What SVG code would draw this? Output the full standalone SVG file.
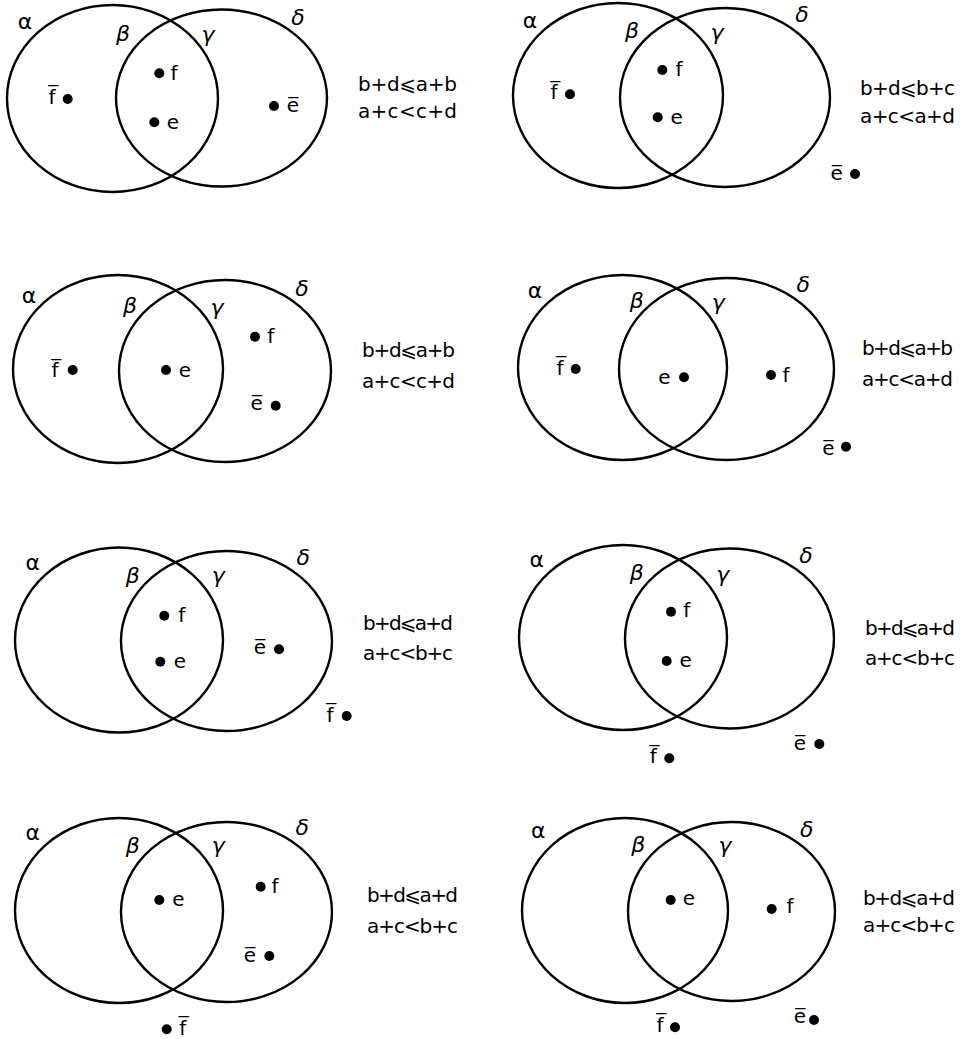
<svg xmlns="http://www.w3.org/2000/svg" width="961" height="1039" viewBox="0 0 961 1039">
<style>
.c{fill:none;stroke:#000;stroke-width:2.4}
.g{font-family:"DejaVu Sans",sans-serif;font-size:22px;fill:#000;text-anchor:middle}
.i{font-style:italic}
.l{font-family:"DejaVu Sans",sans-serif;font-size:20px;fill:#000;text-anchor:middle}
.q{font-family:"DejaVu Sans",sans-serif;font-size:20px;fill:#000}
.d{fill:#000}
</style>
<rect width="961" height="1039" fill="#fff"/>
<g id="panel1">
<ellipse class="c" cx="112.5" cy="98.5" rx="105.5" ry="93.5"/>
<ellipse class="c" cx="221.5" cy="98" rx="105.5" ry="88.5"/>
<text class="g" x="25" y="29">α</text>
<text class="g i" x="123" y="41">β</text>
<text class="g i" x="208" y="42">γ</text>
<text class="g i" x="298" y="25">δ</text>
<text class="l" x="52" y="104">f&#x305;</text><circle class="d" cx="67.7" cy="99" r="5"/>
<circle class="d" cx="159.3" cy="73.3" r="5"/><text class="l" x="174" y="79.5">f</text>
<circle class="d" cx="154.3" cy="122.3" r="5"/><text class="l" x="173" y="129">e</text>
<circle class="d" cx="274" cy="106" r="5"/><text class="l" x="293" y="112">e&#x305;</text>
<text class="q" x="358" y="90.7" textLength="99" lengthAdjust="spacing">b+d⩽a+b</text>
<text class="q" x="358" y="118" textLength="99" lengthAdjust="spacing">a+c&lt;c+d</text>
</g>
<g id="panel2">
<ellipse class="c" cx="618" cy="95.5" rx="105" ry="92.5"/>
<ellipse class="c" cx="725" cy="97.5" rx="105" ry="89.5"/>
<text class="g" x="530" y="28">α</text>
<text class="g i" x="632" y="38">β</text>
<text class="g i" x="717" y="40">γ</text>
<text class="g i" x="802" y="22">δ</text>
<text class="l" x="554" y="99.3">f&#x305;</text><circle class="d" cx="570" cy="94.3" r="5"/>
<circle class="d" cx="662.3" cy="70" r="5"/><text class="l" x="679" y="76">f</text>
<circle class="d" cx="657.7" cy="117.3" r="5"/><text class="l" x="676.7" y="124">e</text>
<text class="l" x="836.7" y="180">e&#x305;</text><circle class="d" cx="855" cy="174" r="5"/>
<text class="q" x="860" y="95" textLength="95" lengthAdjust="spacing">b+d⩽b+c</text>
<text class="q" x="860" y="123" textLength="95" lengthAdjust="spacing">a+c&lt;a+d</text>
</g>
<g id="panel3">
<ellipse class="c" cx="118" cy="369" rx="105" ry="94"/>
<ellipse class="c" cx="225" cy="371" rx="106" ry="91"/>
<text class="g" x="29" y="303.3">α</text>
<text class="g i" x="130" y="313">β</text>
<text class="g i" x="217" y="315">γ</text>
<text class="g i" x="302" y="296">δ</text>
<text class="l" x="55" y="377.3">f&#x305;</text><circle class="d" cx="72.7" cy="370" r="5"/>
<circle class="d" cx="166" cy="370" r="5"/><text class="l" x="185" y="377.3">e</text>
<circle class="d" cx="255" cy="336.7" r="5"/><text class="l" x="270.7" y="343.3">f</text>
<text class="l" x="256.7" y="410">e&#x305;</text><circle class="d" cx="275.7" cy="405.7" r="5"/>
<text class="q" x="362" y="356.7" textLength="93" lengthAdjust="spacing">b+d⩽a+b</text>
<text class="q" x="362" y="388" textLength="93" lengthAdjust="spacing">a+c&lt;c+d</text>
</g>
<g id="panel4">
<ellipse class="c" cx="622.5" cy="367.5" rx="104.5" ry="92.5"/>
<ellipse class="c" cx="726.5" cy="369" rx="107.5" ry="91"/>
<text class="g" x="535" y="298.3">α</text>
<text class="g i" x="636.7" y="308.3">β</text>
<text class="g i" x="718.3" y="310">γ</text>
<text class="g i" x="803.3" y="291.7">δ</text>
<text class="l" x="560" y="375">f&#x305;</text><circle class="d" cx="575.7" cy="369" r="5"/>
<text class="l" x="664.3" y="384">e</text><circle class="d" cx="684" cy="377.3" r="5"/>
<circle class="d" cx="771" cy="375" r="5"/><text class="l" x="786" y="381.7">f</text>
<text class="l" x="828.3" y="455">e&#x305;</text><circle class="d" cx="846" cy="446.7" r="5"/>
<text class="q" x="862" y="355" textLength="91" lengthAdjust="spacing">b+d⩽a+b</text>
<text class="q" x="862" y="386" textLength="91" lengthAdjust="spacing">a+c&lt;a+d</text>
</g>
<g id="panel5">
<ellipse class="c" cx="119" cy="640" rx="104" ry="92.5"/>
<ellipse class="c" cx="226.5" cy="641" rx="105.5" ry="90"/>
<text class="g" x="32.7" y="570">α</text>
<text class="g i" x="132.7" y="583.3">β</text>
<text class="g i" x="218.3" y="583.3">γ</text>
<text class="g i" x="303.3" y="565">δ</text>
<circle class="d" cx="164.3" cy="615.7" r="5"/><text class="l" x="181.7" y="621.7">f</text>
<circle class="d" cx="160.3" cy="661.7" r="5"/><text class="l" x="180" y="668.3">e</text>
<text class="l" x="260" y="654.3">e&#x305;</text><circle class="d" cx="279" cy="649.3" r="5"/>
<text class="l" x="330" y="721.7">f&#x305;</text><circle class="d" cx="346.7" cy="716" r="5"/>
<text class="q" x="363" y="630" textLength="90" lengthAdjust="spacing">b+d⩽a+d</text>
<text class="q" x="363" y="660" textLength="90" lengthAdjust="spacing">a+c&lt;b+c</text>
</g>
<g id="panel6">
<ellipse class="c" cx="623" cy="637.5" rx="104" ry="92.5"/>
<ellipse class="c" cx="729.5" cy="638.5" rx="104.5" ry="90"/>
<text class="g" x="536.7" y="566.7">α</text>
<text class="g i" x="636.7" y="580">β</text>
<text class="g i" x="722.7" y="581.7">γ</text>
<text class="g i" x="806" y="563.3">δ</text>
<circle class="d" cx="671" cy="611.7" r="5"/><text class="l" x="686.7" y="616.7">f</text>
<circle class="d" cx="666.7" cy="661" r="5"/><text class="l" x="685.7" y="666.7">e</text>
<text class="l" x="653.3" y="763.3">f&#x305;</text><circle class="d" cx="669.3" cy="758.3" r="5"/>
<text class="l" x="800" y="750">e&#x305;</text><circle class="d" cx="819.3" cy="744" r="5"/>
<text class="q" x="865" y="635" textLength="90" lengthAdjust="spacing">b+d⩽a+d</text>
<text class="q" x="865" y="665" textLength="90" lengthAdjust="spacing">a+c&lt;b+c</text>
</g>
<g id="panel7">
<ellipse class="c" cx="119" cy="910.5" rx="104" ry="92.5"/>
<ellipse class="c" cx="226.5" cy="912" rx="105.5" ry="90"/>
<text class="g" x="32.7" y="840">α</text>
<text class="g i" x="132.7" y="853.3">β</text>
<text class="g i" x="218.3" y="853.3">γ</text>
<text class="g i" x="302.3" y="835">δ</text>
<circle class="d" cx="159.3" cy="900" r="5"/><text class="l" x="178.3" y="906">e</text>
<circle class="d" cx="260.7" cy="886.7" r="5"/><text class="l" x="275" y="892.7">f</text>
<text class="l" x="250" y="962.3">e&#x305;</text><circle class="d" cx="269.3" cy="956" r="5"/>
<circle class="d" cx="166.7" cy="1029.3" r="5"/><text class="l" x="182.7" y="1035">f&#x305;</text>
<text class="q" x="367" y="902" textLength="91" lengthAdjust="spacing">b+d⩽a+d</text>
<text class="q" x="367" y="933" textLength="91" lengthAdjust="spacing">a+c&lt;b+c</text>
</g>
<g id="panel8">
<ellipse class="c" cx="625" cy="910.5" rx="103" ry="92.5"/>
<ellipse class="c" cx="731.5" cy="911.5" rx="103.5" ry="89.5"/>
<text class="g" x="538.3" y="838.3">α</text>
<text class="g i" x="638.3" y="851.7">β</text>
<text class="g i" x="725" y="853.3">γ</text>
<text class="g i" x="806.7" y="836.7">δ</text>
<circle class="d" cx="670.7" cy="900" r="5"/><text class="l" x="689" y="905">e</text>
<circle class="d" cx="771.7" cy="909" r="5"/><text class="l" x="790" y="913.3">f</text>
<text class="l" x="660" y="1031.7">f&#x305;</text><circle class="d" cx="675" cy="1027.3" r="5"/>
<text class="l" x="800" y="1023.3">e&#x305;</text><circle class="d" cx="814" cy="1020" r="5"/>
<text class="q" x="863" y="905" textLength="92" lengthAdjust="spacing">b+d⩽a+d</text>
<text class="q" x="863" y="932" textLength="92" lengthAdjust="spacing">a+c&lt;b+c</text>
</g>
</svg>
